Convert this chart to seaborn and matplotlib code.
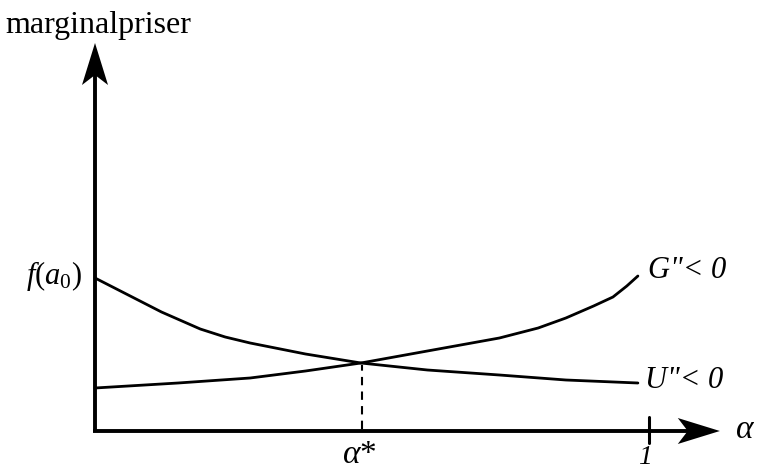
import matplotlib
matplotlib.use("Agg")
import matplotlib.pyplot as plt
import seaborn as sns
import pandas as pd

# Marginal price curves on the interval 0..1 of alpha
u_alpha = [0.0, 0.06, 0.12, 0.19, 0.235, 0.28, 0.38, 0.48, 0.60, 0.73, 0.85, 0.98]
u_price = [1.53, 1.36, 1.19, 1.02, 0.94, 0.88, 0.77, 0.68, 0.61, 0.56, 0.51, 0.48]
g_alpha = [0.0, 0.15, 0.28, 0.38, 0.48, 0.60, 0.73, 0.80, 0.85, 0.90, 0.935, 0.96, 0.98]
g_price = [0.43, 0.48, 0.53, 0.60, 0.68, 0.80, 0.93, 1.03, 1.13, 1.25, 1.34, 1.45, 1.55]
alpha_star = 0.482
price_star = 0.68
curve_labels = ['U"< 0', 'G"< 0']
y_label = "marginalpriser"

sns.set_theme(style="white")
plt.rcParams["font.family"] = ["Liberation Serif", "DejaVu Serif"]
plt.rcParams["mathtext.fontset"] = "custom"
plt.rcParams["mathtext.it"] = "Liberation Serif:italic"
plt.rcParams["mathtext.rm"] = "Liberation Serif"

df = pd.concat([
    pd.DataFrame({"alpha": u_alpha, "price": u_price, "curve": "U"}),
    pd.DataFrame({"alpha": g_alpha, "price": g_price, "curve": "G"}),
])

fig = plt.figure(figsize=(7.57, 4.71), dpi=100)
ax = fig.add_axes([0, 0, 1, 1])
sns.lineplot(data=df, x="alpha", y="price", units="curve", estimator=None,
             sort=False, color="black", linewidth=2.0, legend=False, ax=ax)
ax.set_xlim(-0.1715, 1.195)
ax.set_ylim(-0.40, 4.31)
ax.axis("off")

ink = "black"
# axes with arrow heads
ax.plot([0, 0], [-0.01, 3.58], color=ink, lw=2.8, solid_capstyle="butt")
ax.plot([-0.003, 1.075], [0, 0], color=ink, lw=2.8, solid_capstyle="butt")
ax.fill([0, 0.0235, 0, -0.0235], [3.88, 3.46, 3.56, 3.46], color=ink, lw=0)
ax.fill([1.128, 1.052, 1.070, 1.052], [0, 0.13, 0, -0.13], color=ink, lw=0)

# tick at alpha = 1
ax.plot([1, 1], [-0.12, 0.14], color=ink, lw=2.2)
# dashed drop line at the intersection
ax.plot([alpha_star, alpha_star], [0.02, price_star - 0.02], color=ink, lw=1.5,
        linestyle=(0, (4, 3)))

ax.text(-0.161, 4.05, y_label, fontsize=23, ha="left", va="center",
        color=ink)
ax.text(-0.0235, 1.55, r"$f(a_0)$", fontsize=22, ha="right", va="center",
        color=ink)
ax.text(0.998, 1.60, curve_labels[1], fontsize=22, style="italic",
        ha="left", va="center", color=ink)
ax.text(0.993, 0.50, curve_labels[0], fontsize=22, style="italic",
        ha="left", va="center", color=ink)
ax.text(1.155, 0.01, r"$\alpha$", fontsize=24, ha="left", va="center",
        color=ink)
ax.text(0.478, -0.32, r"$\alpha$*", fontsize=24, ha="center",
        va="baseline", color=ink)
ax.text(0.993, -0.33, "1", fontsize=20, style="italic", ha="center",
        va="baseline", color=ink)

fig.savefig("out.png", dpi=100)
